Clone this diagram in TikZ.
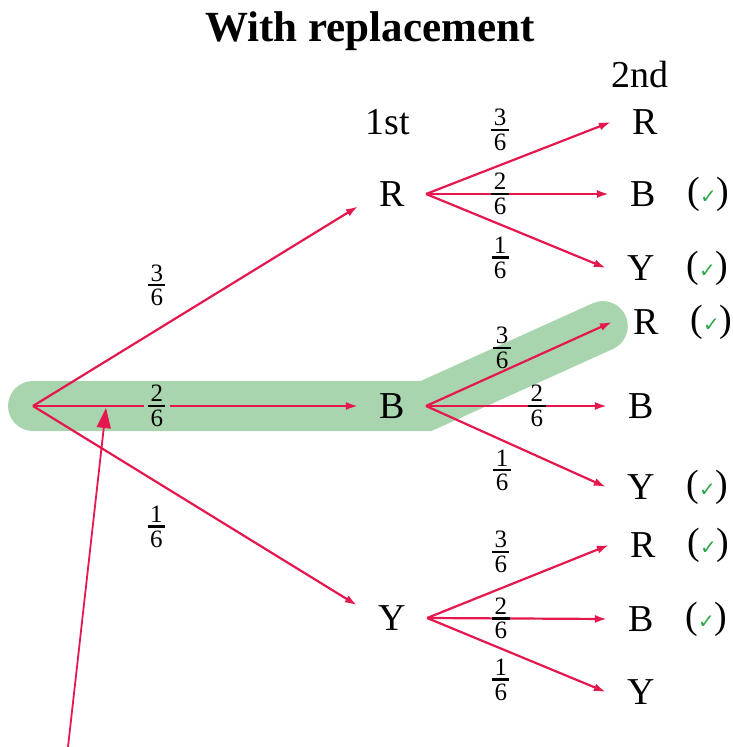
\documentclass[tikz,border=0pt]{standalone}
\usepackage{amsmath}
\usepackage{fontspec}
\setmainfont{Liberation Serif}
\newfontfamily\symfont{DejaVu Sans}
\usetikzlibrary{positioning,arrows.meta,backgrounds}
\definecolor{branchred}{HTML}{E5174F}
\definecolor{pathgreen}{HTML}{A8D5AD}
\definecolor{tickgreen}{HTML}{2AA84A}
\newcommand{\prob}[2]{$\genfrac{}{}{1.3pt}{1}{\mbox{\kern1.2pt#1\kern1.2pt}}{\mbox{\kern1.2pt#2\kern1.2pt}}$}
\newcommand{\okmark}{(\textcolor{tickgreen}{\symfont\fontsize{10}{10}\selectfont ✓})}
\tikzset{
  outcome/.style={font=\fontsize{19}{22}\selectfont, inner xsep=10.5pt, inner ysep=2pt},
  heading/.style={font=\fontsize{19}{22}\selectfont, inner sep=0pt},
  titletext/.style={font=\bfseries\fontsize{21.5}{24}\selectfont, inner sep=0pt},
  probfrac/.style={font=\fontsize{12.5}{14}\selectfont, inner sep=1pt},
  okay/.style={font=\fontsize{19}{22}\selectfont, inner sep=1pt},
  branch/.style={-{Latex[length=6pt,width=4pt]}, draw=branchred, line width=1.1pt},
  pointer/.style={-{Triangle[length=10pt,width=7pt]}, draw=branchred, line width=0.9pt},
  highlight/.style={draw=pathgreen, line width=25pt, line cap=round, line join=miter}
}

\begin{document}
\begin{tikzpicture}[x=0.5pt, y=-0.5pt]
  \useasboundingbox (0,0) rectangle (732,747);
  \node[titletext] (title) at (370,31) {With replacement};
  \node[heading] (first) at (388,122) {1st};
  \node[heading] (second) at (640,75) {2nd};
  % first draw
  \coordinate (root) at (33,406);
  \node[outcome] (r1) at (392,194) {R};
  \node[outcome] (b1) at (392,406) {B};
  \node[outcome] (y1) at (392,618) {Y};
  % second draw
  \node[outcome] (r2r) at (645,122) {R};
  \node[outcome] (r2b) at (643,194) {B};
  \node[outcome] (r2y) at (641,268) {Y};
  \node[outcome] (b2r) at (646,322) {R};
  \node[outcome] (b2b) at (641,406) {B};
  \node[outcome] (b2y) at (641,487) {Y};
  \node[outcome] (y2r) at (643,545) {R};
  \node[outcome] (y2b) at (641,619) {B};
  \node[outcome] (y2y) at (641,692) {Y};
  % ticks
  \node[okay, right=4pt of r2b] (okrb) {\okmark};
  \node[okay, right=4pt of r2y] (okry) {\okmark};
  \node[okay, right=4pt of b2r] (okbr) {\okmark};
  \node[okay, right=4pt of b2y] (okby) {\okmark};
  \node[okay, right=4pt of y2r] (okyr) {\okmark};
  \node[okay, right=4pt of y2b] (okyb) {\okmark};
  \begin{scope}[on background layer]
    \draw[highlight, shorten >=5pt] (root) -- (b1.east) -- (b2r.west);
  \end{scope}
  \draw[branch] (root) -- node[probfrac, pos=0.381, yshift=22.4pt] {\prob36} (r1.200);
  \draw[branch] (root) -- node[probfrac, pos=0.381, fill=pathgreen] {\prob26} (b1.west);
  \draw[branch] (root) -- node[probfrac, pos=0.381, yshift=-22.4pt] {\prob16} (y1.160);
  \draw[branch] (r1.east) -- node[probfrac, pos=0.40, yshift=17.6pt] {\prob36} (r2r.west);
  \draw[branch] (r1.east) -- node[probfrac, pos=0.405] {\prob26} (r2b.west);
  \draw[branch] (r1.east) -- node[probfrac, pos=0.412, yshift=-16.7pt] {\prob16} (r2y.west);
  \draw[branch] (b1.east) -- node[probfrac, pos=0.409, yshift=11.8pt] {\prob36} (b2r.west);
  \draw[branch] (b1.east) -- node[probfrac, pos=0.613] {\prob26} (b2b.west);
  \draw[branch] (b1.east) -- node[probfrac, pos=0.423, yshift=-14.9pt] {\prob16} (b2y.west);
  \draw[branch] (y1.east) -- node[probfrac, pos=0.405, yshift=18.2pt] {\prob36} (y2r.west);
  \draw[branch] (y1.east) -- node[probfrac, pos=0.41] {\prob26} (y2b.west);
  \draw[branch] (y1.east) -- node[probfrac, pos=0.412, yshift=-15.7pt] {\prob16} (y2y.west);
  % pointer to the chosen path
  \coordinate (note) at (68,747);
  \coordinate (notetip) at (106,408);
  \draw[pointer] (note) -- (notetip);
\end{tikzpicture}
\end{document}
